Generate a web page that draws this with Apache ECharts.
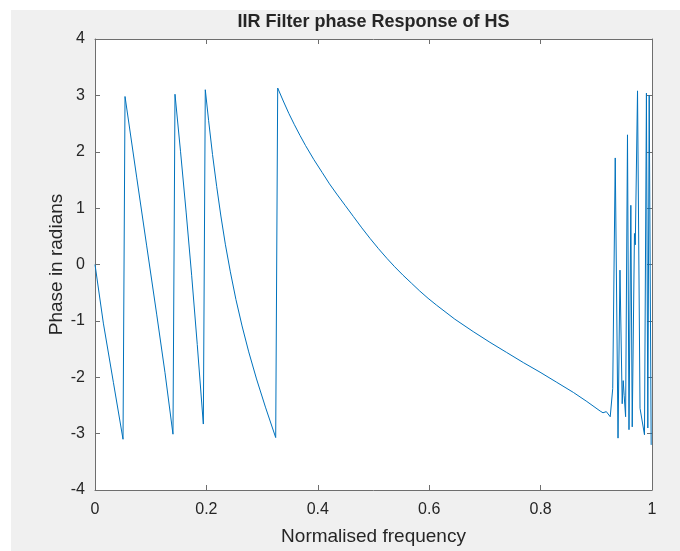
<!DOCTYPE html>
<html>
<head>
<meta charset="utf-8">
<script src="https://cdn.jsdelivr.net/npm/echarts@6/dist/echarts.min.js"></script>
<style>
html,body{margin:0;padding:0;background:#ffffff;}
#chart{width:680px;height:551px;}
</style>
</head>
<body>
<div id="chart"></div>
<script>
// Normalised frequency (x) and phase in radians (y)
const freq = [
  0, 0.015, 0.033, 0.0503,
  0.0539, 0.0748, 0.0928, 0.1107, 0.1257, 0.1400,
  0.1436, 0.1536, 0.1636, 0.1736, 0.1836, 0.1945,
  0.1980, 0.2040, 0.2110, 0.2185, 0.2260, 0.2340, 0.2430, 0.2530, 0.2640, 0.2760, 0.2900, 0.3060, 0.3244,
  0.328, 0.338, 0.348, 0.358, 0.368, 0.378, 0.393, 0.408, 0.421, 0.434, 0.449, 0.464, 0.479, 0.494,
  0.509, 0.524, 0.538, 0.553, 0.568, 0.583, 0.598, 0.613, 0.646, 0.679, 0.709, 0.739,
  0.769, 0.799, 0.829, 0.859, 0.883, 0.907,
  0.912, 0.918, 0.925, 0.9295, 0.934, 0.939, 0.9425, 0.9465, 0.9483, 0.950, 0.9526,
  0.956, 0.9587, 0.962, 0.9645, 0.9685, 0.970, 0.974, 0.9785, 0.9865, 0.988,
  0.990, 0.9925, 0.995, 0.9985
];
const phase = [
  0, -1.04, -2.09, -3.10,
  2.98, 1.55, 0.33, -0.88, -1.92, -3.01,
  3.02, 2.00, 0.93, -0.20, -1.42, -2.83,
  3.10, 2.55, 1.95, 1.38, 0.86, 0.36, -0.13, -0.62, -1.09, -1.55, -2.03, -2.53, -3.07,
  3.13, 2.90, 2.68, 2.48, 2.29, 2.11, 1.86, 1.63, 1.43, 1.25, 1.05, 0.85, 0.65, 0.46,
  0.28, 0.11, -0.04, -0.19, -0.33, -0.47, -0.60, -0.72, -0.97, -1.19, -1.38, -1.56,
  -1.74, -1.91, -2.09, -2.27, -2.43, -2.60,
  -2.63, -2.61, -2.70, -2.20, 1.89, -3.08, -0.10, -2.47, -2.06, -2.32, -2.70,
  2.30, -2.93, 1.05, -2.88, 0.55, 0.35, 3.08, -2.55, -3.02, -3.05,
  3.04, -2.90, 3.00, -3.20
];
const xTicks = [0, 0.2, 0.4, 0.6, 0.8, 1];
const yTicks = [-4, -3, -2, -1, 0, 1, 2, 3, 4];

const titleText = 'IIR Filter phase Response of HS';
const xName = 'Normalised frequency';
const yName = 'Phase in radians';

const points = freq.map((f, i) => [f, phase[i]]);

const axisColor = '#6e6e6e';
const textColor = '#262626';
const fontFam = '"Liberation Sans", Arial, Helvetica, sans-serif';

const chart = echarts.init(document.getElementById('chart'), null, {renderer: 'canvas'});
const G = {left: 95, right: 28, top: 39, bottom: 55};

function xAx(pos, showLabel) {
  return {
    type: 'value', position: pos, min: xTicks[0], max: xTicks[xTicks.length - 1],
    interval: xTicks[1] - xTicks[0],
    axisLine: {show: true, onZero: false, lineStyle: {color: axisColor, width: 1}},
    axisTick: {show: true, inside: true, length: 5, lineStyle: {color: axisColor}},
    axisLabel: {show: showLabel, color: textColor, fontSize: 16, fontFamily: fontFam, margin: 12},
    splitLine: {show: false},
    name: showLabel ? xName : '', nameLocation: 'middle', nameGap: 37, nameMoveOverlap: false,
    nameTextStyle: {color: textColor, fontSize: 19, fontFamily: fontFam}
  };
}
function yAx(pos, showLabel) {
  return {
    type: 'value', position: pos, min: yTicks[0], max: yTicks[yTicks.length - 1],
    interval: yTicks[1] - yTicks[0],
    axisLine: {show: true, onZero: false, lineStyle: {color: axisColor, width: 1}},
    axisTick: {show: true, inside: true, length: 5, lineStyle: {color: axisColor}},
    axisLabel: {show: showLabel, color: textColor, fontSize: 16, fontFamily: fontFam, margin: 10},
    splitLine: {show: false},
    name: showLabel ? yName : '', nameLocation: 'middle', nameGap: 29, nameRotate: 90, nameMoveOverlap: false,
    nameTextStyle: {color: textColor, fontSize: 19, fontFamily: fontFam}
  };
}

chart.setOption({
  animation: false,
  backgroundColor: '#ffffff',
  graphic: [
    {type: 'rect', shape: {x: 11, y: 10, width: 669, height: 541}, style: {fill: '#f0f0f0'}, z: -100, silent: true},
    {type: 'text', x: (G.left + 680 - G.right) / 2, y: 22,
     style: {text: titleText, fill: textColor, font: 'bold 18px ' + fontFam, textAlign: 'center', textVerticalAlign: 'middle'}, z: 10}
  ],
  grid: Object.assign({show: true, backgroundColor: '#ffffff', borderWidth: 0, containLabel: false}, G),
  xAxis: [xAx('bottom', true), xAx('top', false)],
  yAxis: [yAx('left', true), yAx('right', false)],
  series: [{
    type: 'line', xAxisIndex: 0, yAxisIndex: 0, data: points, showSymbol: false, symbol: 'none',
    lineStyle: {color: '#0072BD', width: 1}, clip: true
  }]
});
</script>
</body>
</html>
